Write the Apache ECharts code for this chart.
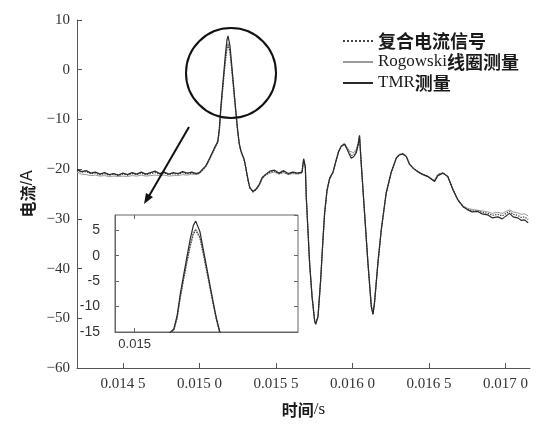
<!DOCTYPE html>
<html>
<head>
<meta charset="utf-8">
<title>电流测量对比</title>
<script src="https://cdn.jsdelivr.net/npm/echarts@6/dist/echarts.min.js"></script>
<style>
  html, body { margin: 0; padding: 0; background: #fff; }
  #chart { width: 550px; height: 425px; }
</style>
</head>
<body>
<div id="chart"></div>
<script>
// time axis (s), shared by all three measurements
const times = [
  0.01420, 0.01423, 0.01426, 0.01429, 0.01432, 0.01435, 0.01438, 0.01441, 0.01444, 0.01447,
  0.01450, 0.01453, 0.01456, 0.01459, 0.01462, 0.01465, 0.01468, 0.01471, 0.01474, 0.01477,
  0.01480, 0.01483, 0.01486, 0.01489, 0.01492, 0.01495, 0.01498, 0.01500, 0.01502, 0.01504,
  0.01506, 0.01508, 0.01510, 0.01512, 0.01513, 0.01514, 0.01515, 0.01516, 0.01517, 0.01518,
  0.015187, 0.01519, 0.01520, 0.01521, 0.01522, 0.01523, 0.01524, 0.01525, 0.01526, 0.01527,
  0.01528, 0.01529, 0.01530, 0.01531, 0.01532, 0.01533, 0.01535, 0.01537, 0.01539, 0.01541,
  0.01543, 0.01546, 0.01549, 0.01552, 0.01555, 0.01558, 0.01561, 0.01564, 0.01567, 0.015681,
  0.015692, 0.015698, 0.015709, 0.01572, 0.015736, 0.015753, 0.01576, 0.015775, 0.015792, 0.015807,
  0.015818, 0.015834, 0.015851, 0.015873, 0.015894, 0.01591, 0.015927, 0.015948, 0.015965, 0.015981,
  0.015992, 0.016008, 0.016025, 0.016038, 0.016046, 0.016057, 0.016079, 0.016101, 0.016123, 0.016134,
  0.016144, 0.016166, 0.016188, 0.01622, 0.016253, 0.016286, 0.016307, 0.01633, 0.016351, 0.016373,
  0.016397, 0.016427, 0.016456, 0.016493, 0.016514, 0.016536, 0.016558, 0.016591, 0.016623, 0.016656,
  0.016689, 0.016721, 0.016754, 0.016782, 0.016819, 0.016847, 0.016884, 0.016913, 0.01695, 0.016978,
  0.017004, 0.017026, 0.01705, 0.01708, 0.017102, 0.017124, 0.017148
];

// 复合电流信号 (A)
const composite = [
  -20.3, -20.6, -20.5, -20.9, -20.8, -21.1, -20.9, -21.2, -21.0, -21.3,
  -21.0, -21.2, -20.9, -21.1, -20.8, -21.1, -20.9, -20.7, -21.0, -20.8,
  -21.1, -20.9, -21.0, -20.7, -20.9, -20.8, -20.9, -20.8, -20.2, -19.5,
  -18.4, -17.1, -15.8, -14.6, -12.3, -8.1, -4.6, -1.3, 1.8, 4.3,
  5.0, 5.0, 3.5, 0.4, -2.8, -6.1, -9.4, -12.5, -15.0, -16.3,
  -17.2, -17.9, -19.3, -21.0, -22.6, -23.8, -24.6, -24.1, -23.2, -21.8,
  -21.2, -20.6, -20.4, -20.9, -20.5, -21.0, -20.7, -20.9, -20.7, -18.2,
  -19.7, -25.6, -32.3, -39.0, -45.7, -50.6, -51.1, -49.6, -42.4, -34.3,
  -28.9, -24.2, -21.9, -20.6, -18.2, -16.4, -15.4, -14.9, -15.8, -16.8,
  -17.3, -17.1, -16.4, -14.8, -13.3, -18.8, -28.9, -38.9, -47.6, -49.1,
  -46.9, -39.0, -32.3, -24.9, -20.7, -17.8, -17.1, -16.9, -17.4, -19.0,
  -19.8, -20.5, -21.0, -21.5, -21.9, -22.4, -21.2, -20.8, -21.5, -24.1,
  -26.2, -27.5, -28.1, -28.4, -28.4, -28.7, -28.9, -29.3, -29.1, -29.4,
  -28.9, -28.5, -29.1, -29.3, -29.7, -29.6, -30.1
];

// Rogowski线圈测量 (A)
const rogowski = [
  -20.6, -21.0, -21.1, -21.3, -21.2, -21.4, -21.3, -21.5, -21.4, -21.5,
  -21.4, -21.5, -21.3, -21.4, -21.2, -21.4, -21.3, -21.2, -21.3, -21.2,
  -21.4, -21.3, -21.3, -21.1, -21.2, -21.0, -21.1, -20.9, -20.3, -19.6,
  -18.5, -17.2, -15.9, -14.7, -12.4, -8.2, -4.6, -1.2, 2.0, 4.6,
  5.3, 5.2, 3.6, 0.5, -2.7, -6.0, -9.3, -12.4, -14.9, -16.3,
  -17.1, -17.9, -19.3, -21.0, -22.6, -23.8, -24.6, -24.2, -23.4, -22.0,
  -21.3, -20.8, -20.6, -21.0, -20.7, -21.1, -20.9, -21.0, -20.8, -18.3,
  -19.8, -25.6, -32.3, -39.0, -45.7, -50.5, -51.0, -49.5, -42.4, -34.4,
  -29.0, -24.4, -22.1, -20.6, -18.3, -16.5, -15.3, -14.8, -15.6, -16.4,
  -16.8, -16.7, -16.0, -14.6, -13.4, -18.9, -28.9, -38.9, -47.5, -49.0,
  -46.9, -39.1, -32.4, -25.0, -20.8, -17.8, -17.0, -16.8, -17.5, -19.1,
  -19.9, -20.6, -21.1, -21.4, -21.8, -22.3, -21.0, -20.7, -21.4, -24.0,
  -26.1, -27.4, -27.9, -28.1, -28.3, -28.4, -28.6, -28.9, -28.7, -28.9,
  -28.5, -28.2, -28.6, -28.8, -29.1, -29.0, -29.4
];

// TMR测量 (A)
const tmr = [
  -20.1, -20.5, -20.3, -20.8, -20.6, -21.0, -20.7, -21.1, -20.9, -21.2,
  -20.8, -21.1, -20.7, -21.0, -20.6, -21.0, -20.7, -20.4, -20.9, -20.6,
  -21.0, -20.7, -20.9, -20.5, -20.8, -20.6, -20.9, -20.7, -20.0, -19.4,
  -18.2, -16.9, -15.6, -14.4, -11.8, -7.4, -3.8, -0.3, 3.2, 6.0,
  6.8, 6.6, 4.7, 1.3, -2.1, -5.6, -9.0, -12.2, -14.8, -16.2,
  -17.1, -17.8, -19.2, -20.9, -22.5, -23.7, -24.5, -24.0, -23.1, -21.7,
  -21.1, -20.4, -20.2, -20.8, -20.3, -20.9, -20.6, -20.8, -20.6, -17.9,
  -19.5, -25.5, -32.2, -38.9, -45.6, -50.6, -51.2, -49.6, -42.3, -34.2,
  -28.8, -24.1, -21.8, -20.6, -18.1, -16.4, -15.4, -15.0, -16.0, -17.1,
  -17.8, -17.5, -16.7, -15.0, -13.2, -18.7, -28.8, -38.8, -47.6, -49.2,
  -46.9, -38.9, -32.2, -24.8, -20.6, -17.8, -17.1, -17.0, -17.4, -19.0,
  -19.8, -20.5, -21.0, -21.5, -22.0, -22.5, -21.3, -20.8, -21.5, -24.1,
  -26.2, -27.5, -28.2, -28.6, -28.5, -29.0, -29.2, -29.8, -29.6, -30.0,
  -29.4, -28.9, -29.6, -29.8, -30.3, -30.2, -30.8
];

const xTicks = [0.0145, 0.015, 0.0155, 0.016, 0.0165, 0.017];
const insetXTicks = [0.015];

const pairs = arr => times.map((t, i) => [t, arr[i]]);

const serif = 'Liberation Serif, DejaVu Serif, serif';
const cjk = 'Noto Sans CJK SC, sans-serif';
const sans = 'Liberation Sans, Arial, sans-serif';

const styles = [
  { name: '复合电流信号', data: composite, color: '#444', width: 1.3, type: 'dotted', z: 3 },
  { name: 'Rogowski线圈测量', data: rogowski, color: '#9a9a9a', width: 1, type: 'solid', z: 2 },
  { name: 'TMR测量', data: tmr, color: '#2a2a2a', width: 1.2, type: 'solid', z: 4 }
];

const mkSeries = (s, axis) => ({
  name: s.name,
  type: 'line',
  xAxisIndex: axis,
  yAxisIndex: axis,
  data: pairs(s.data),
  symbol: 'none',
  smooth: false,
  z: s.z,
  clip: true,
  silent: true,
  lineStyle: { color: s.color, width: s.width, type: s.type },
  itemStyle: { color: s.color }
});

const chart = echarts.init(document.getElementById('chart'));
const option = {
  backgroundColor: '#fff',
  animation: false,
  legend: {
    orient: 'vertical',
    left: 337,
    top: 26,
    itemWidth: 30,
    itemHeight: 10,
    itemGap: 1,
    data: styles.map(s => s.name),
    itemStyle: { opacity: 0 },
    formatter: name => name.replace(/[A-Za-z]+/g, m => '{en|' + m + '}'),
    textStyle: {
      fontFamily: cjk, fontSize: 18, fontWeight: 'bold', color: '#1a1a1a', lineHeight: 20,
      rich: { en: { fontFamily: serif, fontSize: 17, fontWeight: 'normal', color: '#1a1a1a', lineHeight: 20 } }
    }
  },
  grid: [
    { left: 77, right: 20, top: 20, bottom: 57, show: false },
    { left: 115, top: 215, width: 183, height: 117, show: true, borderColor: '#666', borderWidth: 1 }
  ],
  xAxis: [
    {
      type: 'value', gridIndex: 0, min: 0.0142, max: 0.01716,
      name: '{zh|时间}{en|/s}', nameLocation: 'middle', nameGap: 33,
      nameTextStyle: { rich: {
        zh: { fontFamily: cjk, fontSize: 16, fontWeight: 'bold', color: '#1a1a1a' },
        en: { fontFamily: serif, fontSize: 17, color: '#1a1a1a' }
      } },
      splitLine: { show: false },
      axisLine: { onZero: false, lineStyle: { color: '#555' } },
      axisTick: { inside: true, length: 5, customValues: xTicks, lineStyle: { color: '#555' } },
      axisLabel: {
        customValues: xTicks, margin: 9, fontFamily: serif, fontSize: 15, color: '#333',
        formatter: v => { const s = v.toFixed(4); return s.slice(0, 5) + ' ' + s.slice(5); }
      }
    },
    {
      type: 'value', gridIndex: 1, min: 0.01494, max: 0.0155,
      splitLine: { show: false },
      axisLine: { onZero: false, lineStyle: { color: '#666' } },
      axisTick: { inside: true, length: 4, customValues: insetXTicks, lineStyle: { color: '#666' } },
      axisLabel: { customValues: insetXTicks, margin: 6, fontFamily: sans, fontSize: 13, color: '#333',
        formatter: v => v.toFixed(3) }
    },
    {
      type: 'value', gridIndex: 1, min: 0.01494, max: 0.0155, position: 'top',
      splitLine: { show: false },
      axisLine: { show: false, onZero: false },
      axisTick: { inside: true, length: 4, customValues: insetXTicks, lineStyle: { color: '#666' } },
      axisLabel: { show: false }
    }
  ],
  yAxis: [
    {
      type: 'value', gridIndex: 0, min: -60, max: 10, interval: 10,
      name: '{zh|电流}{en|/A}', nameLocation: 'middle', nameGap: 41,
      nameTextStyle: { rich: {
        zh: { fontFamily: cjk, fontSize: 16, fontWeight: 'bold', color: '#1a1a1a' },
        en: { fontFamily: sans, fontSize: 16, color: '#1a1a1a' }
      } },
      splitLine: { show: false },
      axisLine: { show: true, onZero: false, lineStyle: { color: '#555' } },
      axisTick: { inside: true, length: 5, lineStyle: { color: '#555' } },
      axisLabel: { margin: 7, fontFamily: serif, fontSize: 15, color: '#333',
        formatter: v => String(v).replace('-', '\u2212') }
    },
    {
      type: 'value', gridIndex: 1, min: -15, max: 8, interval: 5,
      splitLine: { show: false },
      axisLine: { show: true, onZero: false, lineStyle: { color: '#666' } },
      axisTick: { inside: true, length: 4, lineStyle: { color: '#666' } },
      axisLabel: { margin: 15, fontFamily: sans, fontSize: 14, color: '#333', showMaxLabel: false,
        formatter: v => (v % 5 === 0 ? String(v) : '') }
    },
    {
      type: 'value', gridIndex: 1, min: -15, max: 8, interval: 5, position: 'right',
      splitLine: { show: false },
      axisLine: { show: false, onZero: false },
      axisTick: { inside: true, length: 4, lineStyle: { color: '#666' } },
      axisLabel: { show: false }
    }
  ],
  series: [
    ...styles.map(s => mkSeries(s, 0)),
    ...styles.map(s => mkSeries(s, 1))
  ],
  graphic: [
    { type: 'circle', shape: { cx: 231, cy: 73, r: 45 }, style: { fill: 'none', stroke: '#111', lineWidth: 2 }, z: 10 },
    { type: 'line', shape: { x1: 189, y1: 127, x2: 149, y2: 196 }, style: { stroke: '#111', lineWidth: 2 }, z: 10 },
    { type: 'polygon', shape: { points: [[144, 204], [153, 197], [146, 193]] }, style: { fill: '#111' }, z: 10 }
  ]
};
chart.setOption(option);
</script>
</body>
</html>
